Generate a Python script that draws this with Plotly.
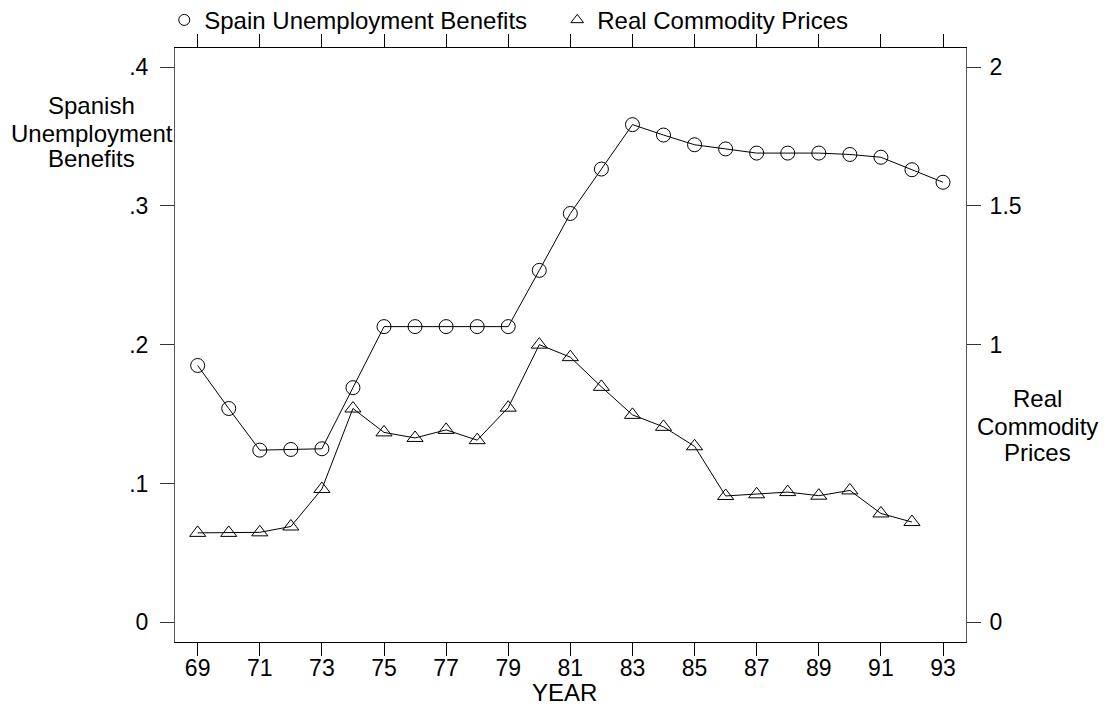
import plotly.graph_objects as go

years_benefits = list(range(69, 94))
benefits = [0.185, 0.154, 0.124, 0.1245, 0.125, 0.169, 0.213, 0.213, 0.213, 0.213,
            0.213, 0.2535, 0.2945, 0.3265, 0.3585, 0.351, 0.344, 0.341, 0.338, 0.338,
            0.338, 0.337, 0.335, 0.326, 0.317]

years_commodity = list(range(69, 93))
commodity = [0.322, 0.322, 0.324, 0.345, 0.48, 0.77, 0.684, 0.664, 0.693, 0.656,
             0.773, 1.0, 0.955, 0.848, 0.747, 0.704, 0.634, 0.455, 0.461, 0.469,
             0.456, 0.475, 0.392, 0.361]

x_ticks = list(range(69, 94, 2))
x_ticktext = [str(v) for v in x_ticks]
left_ticks = [0, 0.1, 0.2, 0.3, 0.4]
left_ticktext = ["0", ".1", ".2", ".3", ".4"]
right_ticks = [0, 1, 1.5, 2]
right_ticktext = ["0", "1", "1.5", "2"]

FONT = "Liberation Sans, Arial, sans-serif"
FS = 24
TFS = 23

W, H = 1100, 700
L, R, T, B = 167, 957.7, 39.7, 633.7

fig = go.Figure()
series = [
    (years_benefits, benefits, "Spain Unemployment Benefits", "circle-open", "y"),
    (years_commodity, commodity, "Real Commodity Prices", "triangle-up-open", "y2"),
]
for xs, ys, name, sym, ax in series:
    fig.add_trace(go.Scatter(
        x=xs, y=ys, name=name, mode="lines+markers", showlegend=False,
        line=dict(color="black", width=1),
        marker=dict(symbol=sym, size=14, color="black", line=dict(width=1, color="black")),
        yaxis=ax,
    ))
    # legend-only entry with a smaller symbol, as in the original key
    fig.add_trace(go.Scatter(
        x=[None], y=[None], name=name, mode="markers", showlegend=True,
        marker=dict(symbol=sym, size=11, color="black", line=dict(width=1, color="black")),
        yaxis=ax,
    ))

ylo, yhi = -0.0142, 0.4137

fig.update_layout(
    width=W, height=H,
    margin=dict(l=L, r=W - R, t=T, b=H - B, autoexpand=False),
    paper_bgcolor="white", plot_bgcolor="white",
    font=dict(family=FONT, size=FS, color="black"),
    showlegend=True,
    legend=dict(orientation="h", x=-0.0136, xanchor="left", y=1.0466, yanchor="middle",
                font=dict(size=FS), entrywidth=348, entrywidthmode="pixels",
                itemsizing="trace", bgcolor="rgba(0,0,0,0)"),
    xaxis=dict(range=[68.27, 93.74], tickvals=x_ticks, ticktext=x_ticktext,
               showgrid=False, zeroline=False, showline=True, linecolor="black", linewidth=1,
               mirror="allticks", ticks="outside", ticklen=13, tickcolor="black", tickwidth=1,
               ticklabelstandoff=-8, tickfont=dict(size=TFS)),
    yaxis=dict(range=[ylo, yhi], tickvals=left_ticks, ticktext=left_ticktext,
               showgrid=False, zeroline=False, showline=True, linecolor="#555", linewidth=1,
               ticks="outside", ticklen=14, tickcolor="#333", tickwidth=1,
               ticklabelstandoff=7, tickfont=dict(size=TFS)),
    yaxis2=dict(range=[ylo * 5, yhi * 5], tickvals=right_ticks, ticktext=right_ticktext,
                overlaying="y", side="right",
                showgrid=False, zeroline=False, showline=True, linecolor="#555", linewidth=1,
                ticks="outside", ticklen=14, tickcolor="#333", tickwidth=1,
                ticklabelstandoff=4, tickfont=dict(size=TFS)),
)

def ann(text, xpx, ypx):
    # positions in figure pixels, converted to paper coords
    fig.add_annotation(text=text, xref="paper", yref="paper",
                       x=(xpx - L) / (R - L), y=(B - ypx) / (B - T),
                       xanchor="center", yanchor="middle", showarrow=False,
                       font=dict(family=FONT, size=FS, color="black"))

ann("Spanish", 84, 97)
ann("Unemployment", 84, 125)
ann("Benefits", 84, 150)
ann("Real", 1029, 390)
ann("Commodity", 1029, 418)
ann("Prices", 1029, 444)
ann("YEAR", 556, 684)

fig.write_html("out.html")
